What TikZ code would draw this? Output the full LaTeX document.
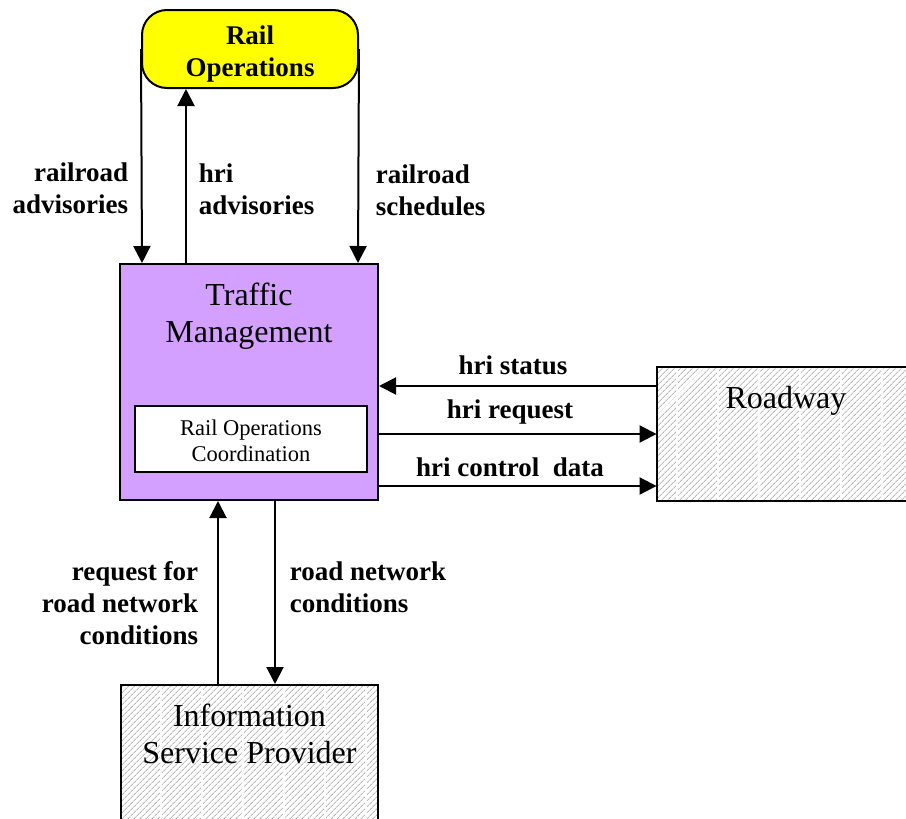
\documentclass[tikz,border=0pt]{standalone}
\usepackage{fontspec}
\setmainfont{Liberation Serif}
\usetikzlibrary{arrows.meta,calc,patterns.meta}

\definecolor{tmpurple}{RGB}{212,160,255}
\definecolor{railyellow}{RGB}{255,255,0}

\tikzset{
  flowlbl/.style={font=\fontsize{27}{32}\selectfont\bfseries, inner sep=0.75pt},
  bigtxt/.style={font=\fontsize{32}{37}\selectfont, inner sep=0.75pt, align=center},
  flow/.style={line width=2pt, -{Triangle[length=17pt,width=17pt]}},
  hatchbox/.style={draw, line width=2pt, fill=white, pattern={Lines[angle=45,distance=4pt,line width=0.9pt]}, pattern color=gray!55, inner sep=0pt}
}

\begin{document}
\begin{tikzpicture}[x=1pt,y=1pt,yscale=-1,xscale=1]
    \clip (0,0) rectangle (906,819);
    \fill[white] (0,0) rectangle (906,819);
    % Rail Operations
    \node (rail) [draw, line width=2pt, fill=railyellow, rounded corners=25pt, minimum width=216pt, minimum height=78pt, inner sep=0pt] at (250,49) {};
    \node (railtitle) [flowlbl, align=center] at (250,54) {Rail\\Operations};
    % Traffic Management
    \node (tm) [draw, line width=2pt, fill=tmpurple, minimum width=258pt, minimum height=236pt, inner sep=0pt] at (249,382) {};
    \node (tmtitle) [bigtxt] at (249,316) {Traffic\\Management};
    \node (rocoord) [draw, line width=2pt, fill=white, minimum width=232pt, minimum height=66pt, inner sep=0pt] at (251,439) {};
    \node (rocoordtitle) [align=center, inner sep=0.75pt, font=\fontsize{22.5}{26}\selectfont] at (251,441) {Rail Operations\\Coordination};
    % Roadway
    \node (road) [hatchbox, minimum width=268pt, minimum height=134pt] at (791,434) {};
    \foreach \sx in {677,718,759,800,841,882}
      \draw[white, line width=1.5pt] (\sx,368) -- (\sx,500);
    \node (roadtitle) [bigtxt] at (786,401) {Roadway};
    % Information Service Provider
    \node (isp) [hatchbox, minimum width=257pt, minimum height=150pt] at (249.5,760) {};
    \foreach \sx in {161,202,243,284,325,366}
      \draw[white, line width=1.5pt] (\sx,686) -- (\sx,819);
    \node (isptitle) [bigtxt] at (249.5,734) {Information\\Service Provider};
    % flows Rail Operations <-> Traffic Management
    \draw[flow] (rail.west) -- ($(tm.north)+(-107,0)$);
    \draw[flow] ($(tm.north)+(-63,0)$) -- ($(rail.south)+(-64,0)$);
    \draw[flow] (rail.east) -- ($(tm.north)+(109,0)$);
    % flows Roadway <-> Traffic Management
    \draw[flow] ($(road.west)+(0,-48)$) -- ($(tm.east)+(0,4)$);
    \draw[flow] ($(tm.east)+(0,52)$) -- (road.west);
    \draw[flow] ($(tm.east)+(0,104)$) -- ($(road.west)+(0,52)$);
    % flows Information Service Provider <-> Traffic Management
    \draw[flow] ($(isp.north)+(-31.5,0)$) -- ($(tm.south)+(-31,0)$);
    \draw[flow] ($(tm.south)+(26,0)$) -- ($(isp.north)+(25.5,0)$);
    % Text Node
    \node (lblrailadv) [flowlbl, anchor=east, align=right] at (129,188) {railroad\\advisories};
    \node (lblhriadv) [flowlbl, anchor=west, align=left] at (198,189) {hri\\advisories};
    \node (lblrailsched) [flowlbl, anchor=west, align=left] at (375,190) {railroad\\schedules};
    \node (lblhristatus) [flowlbl] at (513,365) {hri status};
    \node (lblhrireq) [flowlbl] at (510,412) {hri request};
    \node (lblhrictrl) [flowlbl] at (510,467) {hri control~ data};
    \node (lblreqnet) [flowlbl, anchor=east, align=right] at (199,603) {request for\\road network\\conditions};
    \node (lblnetcond) [flowlbl, anchor=west, align=left] at (289,587) {road network\\conditions};
\end{tikzpicture}
\end{document}
